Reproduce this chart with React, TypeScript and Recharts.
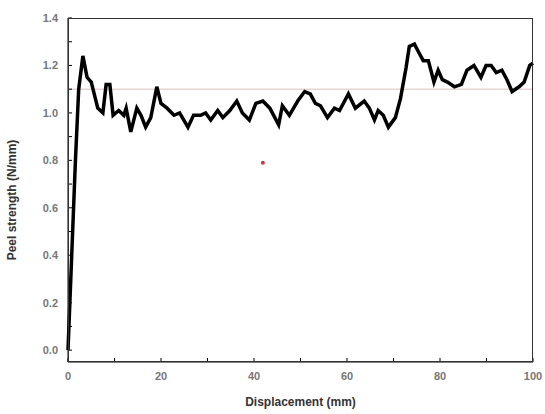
import React from 'react';
import { LineChart, Line, XAxis, YAxis, ReferenceLine, ReferenceDot } from 'recharts';

// displacement (mm) and peel strength (N/mm)
const displacement = [
  0, 0.8, 1.6, 2.3, 3.2, 4.1, 5.0, 6.4, 7.5, 8.2, 9.0, 9.7, 10.9, 12.0, 12.5, 13.5, 14.8, 15.7,
  16.7, 17.8, 19.1, 20.0, 21.3, 22.8, 24.0, 25.8, 27.0, 28.5, 29.6, 30.7, 32.2, 33.3, 34.8, 36.3,
  37.5, 39.0, 40.4, 41.9, 43.4, 45.3, 46.1, 47.6, 49.4, 50.9, 52.1, 53.2, 54.3, 55.8, 57.3, 58.4,
  60.3, 61.8, 63.7, 64.8, 65.9, 66.7, 67.8, 68.9, 70.4, 71.5, 72.7, 73.4, 74.5, 75.3, 76.4, 77.5,
  78.7, 79.6, 80.5, 81.6, 83.1, 84.6, 85.8, 87.3, 88.8, 89.9, 91.0, 92.1, 93.3, 94.4, 95.5, 97.0,
  98.1, 99.3, 100,
];
const strength = [
  0, 0.4, 0.8, 1.1, 1.24, 1.15, 1.13, 1.02, 1.0, 1.12, 1.12, 0.99, 1.01, 0.99, 1.02, 0.92, 1.02, 0.99,
  0.94, 0.98, 1.11, 1.04, 1.02, 0.99, 1.0, 0.94, 0.99, 0.99, 1.0, 0.97, 1.01, 0.98, 1.01, 1.05,
  1.0, 0.97, 1.04, 1.05, 1.02, 0.95, 1.03, 0.99, 1.05, 1.09, 1.08, 1.04, 1.03, 0.98, 1.02, 1.01,
  1.08, 1.02, 1.05, 1.02, 0.97, 1.01, 0.99, 0.94, 0.98, 1.06, 1.19, 1.28, 1.29, 1.26, 1.22, 1.22,
  1.13, 1.18, 1.14, 1.13, 1.11, 1.12, 1.18, 1.2, 1.15, 1.2, 1.2, 1.17, 1.18, 1.14, 1.09, 1.11,
  1.13, 1.2, 1.21,
];

const xTicks = [0, 10, 20, 30, 40, 50, 60, 70, 80, 90, 100];
const yTicks = [0, 0.1, 0.2, 0.3, 0.4, 0.5, 0.6, 0.7, 0.8, 0.9, 1.0, 1.1, 1.2, 1.3, 1.4];
const averageLevel = 1.1;
const markerPoint = { x: 41.9, y: 0.79 };

const data = displacement.map((d, i) => ({ d, s: strength[i] }));

const W = 545;
const H = 414;
const margin = { top: 18, right: 12, bottom: 8, left: 0 };
const yAxisWidth = 68;
const xAxisHeight = 44;

const font = '"Liberation Sans", Arial, sans-serif';
const tickStyle = { fontSize: 11, fontWeight: 700, fill: '#777', fontFamily: font };
const labelStyle = { fontSize: 12, fontWeight: 700, fill: '#333', fontFamily: font };

export default function App() {
  return (
    <div style={{ position: 'absolute', left: 0, top: 0, width: W, height: H, background: '#fff' }}>
      <LineChart width={W} height={H} data={data} margin={margin}>
        <XAxis
          dataKey="d"
          type="number"
          domain={[0, 100]}
          ticks={xTicks}
          height={xAxisHeight}
          stroke="#000"
          tickSize={-4}
          tickMargin={14}
          tick={tickStyle}
          tickFormatter={(v: number) => (v % 20 === 0 ? String(v) : '')}
          label={{ value: 'Displacement (mm)', position: 'insideBottom', offset: 0, style: labelStyle }}
        />
        <YAxis
          type="number"
          domain={[-0.05, 1.4]}
          ticks={yTicks}
          width={yAxisWidth}
          stroke="#000"
          tickSize={-4}
          tickMargin={14}
          tick={tickStyle}
          tickFormatter={(v: number) => (Math.round(v * 10) % 2 === 0 ? v.toFixed(1) : '')}
          label={{ value: 'Peel strength (N/mm)', angle: -90, position: 'insideLeft', offset: 12, dy: 10, style: { ...labelStyle, textAnchor: 'middle' } }}
        />
        <ReferenceLine y={averageLevel} stroke="#e8b8b8" strokeWidth={1} />
        <ReferenceDot x={markerPoint.x} y={markerPoint.y} r={2} fill="#e03030" stroke="none" />
        <Line
          type="linear"
          dataKey="s"
          stroke="#000"
          strokeWidth={3.5}
          dot={false}
          isAnimationActive={false}
        />
      </LineChart>
      {/* plot frame */}
      <div
        style={{
          position: 'absolute',
          left: margin.left + yAxisWidth,
          top: margin.top,
          width: W - margin.left - margin.right - yAxisWidth,
          height: H - margin.top - margin.bottom - xAxisHeight,
          border: '1px solid #333',
          boxSizing: 'border-box',
          pointerEvents: 'none',
        }}
      />
    </div>
  );
}
